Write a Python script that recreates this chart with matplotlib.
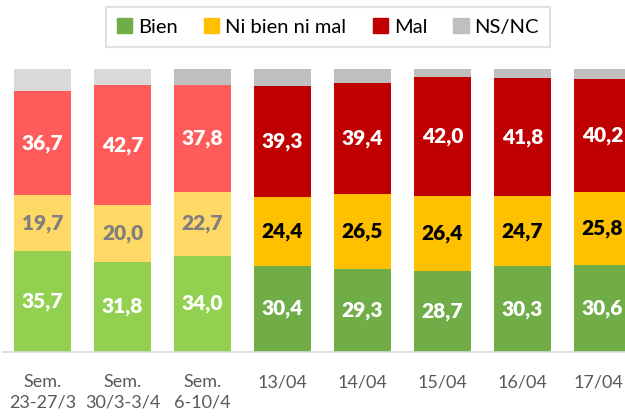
import numpy as np
import matplotlib.pyplot as plt
import matplotlib.transforms as mtransforms
from matplotlib.patches import Patch

# Data
labels = ['Sem.\n23-27/3', 'Sem.\n30/3-3/4', 'Sem.\n6-10/4',
          '13/04', '14/04', '15/04', '16/04', '17/04']
bien = [35.7, 31.8, 34.0, 30.4, 29.3, 28.7, 30.3, 30.6]
ni_bien_ni_mal = [19.7, 20.0, 22.7, 24.4, 26.5, 26.4, 24.7, 25.8]
mal = [36.7, 42.7, 37.8, 39.3, 39.4, 42.0, 41.8, 40.2]
ns_nc = [100 - b - n - m for b, n, m in zip(bien, ni_bien_ni_mal, mal)]

# weekly bars are lighter, daily bars full colour
green = ['#92D050'] * 3 + ['#70AD47'] * 5
yellow = ['#FFD966'] * 3 + ['#FFC000'] * 5
red = ['#FF5B5B'] * 3 + ['#C00000'] * 5
grey = ['#D9D9D9', '#D9D9D9'] + ['#BFBFBF'] * 6
yellow_txt = ['#7F7F7F'] * 3 + ['black'] * 5

plt.rcParams['font.family'] = ['Lato', 'DejaVu Sans']

fig = plt.figure(figsize=(6.25, 4.16), dpi=100)
ax = fig.add_axes([0.005, 0.154, 0.995, 0.680])

x = np.arange(len(labels))
w = 0.71
bottom = np.zeros(len(labels))
for vals, cols in [(bien, green), (ni_bien_ni_mal, yellow), (mal, red), (ns_nc, grey)]:
    ax.bar(x, vals, w, bottom=bottom, color=cols, edgecolor='none')
    bottom += np.array(vals)

fs = 15
for i in x:
    ax.text(i, bien[i] / 2, f'{bien[i]:.1f}'.replace('.', ','), ha='center', va='center',
            color='white', fontsize=fs, fontweight='heavy')
    ax.text(i, bien[i] + ni_bien_ni_mal[i] / 2, f'{ni_bien_ni_mal[i]:.1f}'.replace('.', ','),
            ha='center', va='center', color=yellow_txt[i], fontsize=fs, fontweight='heavy')
    ax.text(i, bien[i] + ni_bien_ni_mal[i] + mal[i] / 2, f'{mal[i]:.1f}'.replace('.', ','),
            ha='center', va='center', color='white', fontsize=fs, fontweight='heavy')

ax.set_xlim(-0.494, 7.28)
ax.set_ylim(0, 100)
ax.set_xticks(x)
ax.set_xticklabels(labels, fontsize=13, color='#595959', linespacing=1.3)
ax.tick_params(axis='x', length=0, pad=16)
# keep the last date label inside the canvas
last = ax.get_xticklabels()[-1]
last.set_transform(last.get_transform() + mtransforms.ScaledTranslation(-0.04, 0, fig.dpi_scale_trans))
ax.set_yticks([])
for s in ['top', 'right', 'left']:
    ax.spines[s].set_visible(False)
ax.spines['bottom'].set_color('#D9D9D9')
ax.spines['bottom'].set_linewidth(1.2)

handles = [Patch(color=c) for c in ['#70AD47', '#FFC000', '#C00000', '#BFBFBF']]
leg = fig.legend(handles, ['Bien', 'Ni bien ni mal', 'Mal', 'NS/NC'], loc='center',
                 bbox_to_anchor=(0.525, 0.935), ncol=4, fontsize=14.5, frameon=True,
                 fancybox=False, handlelength=0.75, handleheight=0.75, handletextpad=0.3,
                 columnspacing=1.3, borderpad=0.55, borderaxespad=0)
leg.get_frame().set_edgecolor('#D9D9D9')
leg.get_frame().set_linewidth(1.5)

fig.savefig('out.png', dpi=100)
